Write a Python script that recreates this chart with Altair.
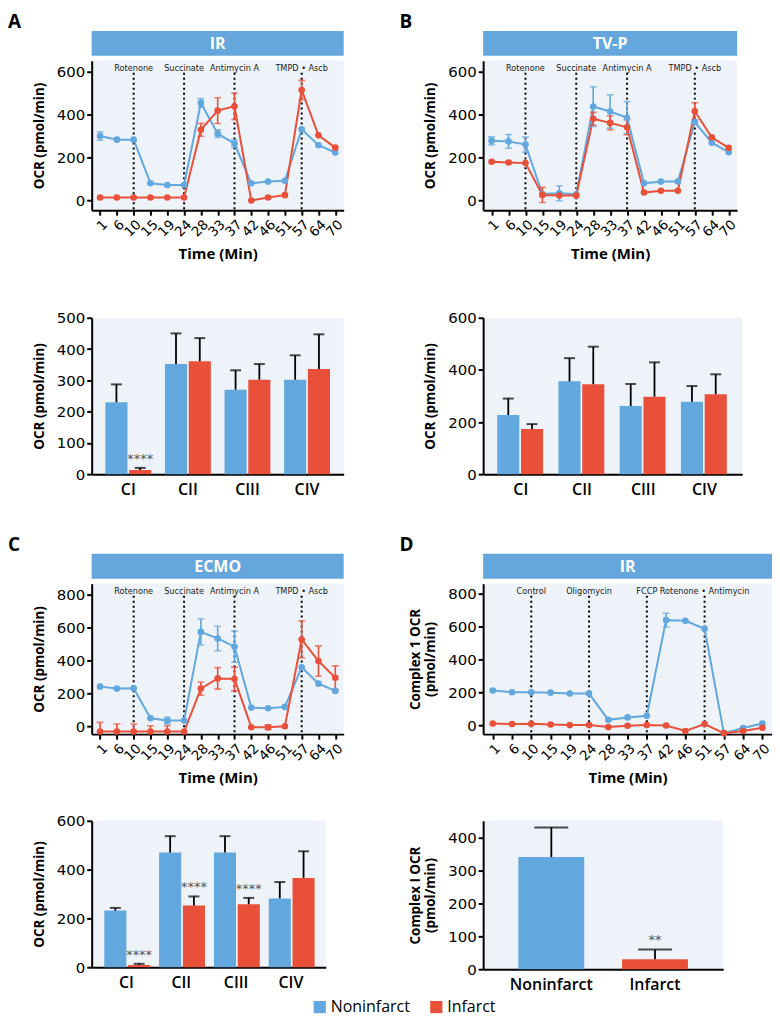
import altair as alt
import pandas as pd

BLUE = "#62a7de"
RED = "#e9503a"
HEADER = "#65a7dc"
BG = "#eef3fa"
GROUPS = ["Noninfarct", "Infarct"]
TIMES = ["1", "6", "10", "15", "19", "24", "28", "33", "37", "42", "46", "51", "57", "64", "70"]
CATS = ["CI", "CII", "CIII", "CIV"]

# ---------------- Panel A (IR) ----------------
A_EVENTS = ["10", "24", "37", "57"]
A_EVENT_LABELS = ["Rotenone", "Succinate", "Antimycin A", "TMPD \u2022 Ascb"]
A_NONINF = [300, 283, 283, 80, 72, 72, 454, 311, 265, 80, 88, 92, 331, 257, 223]
A_NONINF_ERR = [20, 0, 0, 0, 0, 0, 20, 18, 18, 0, 0, 0, 0, 0, 0]
A_INF = [14, 14, 14, 14, 14, 14, 329, 418, 438, 0, 14, 25, 514, 303, 246]
A_INF_ERR = [0, 0, 0, 0, 0, 0, 30, 60, 62, 0, 0, 0, 45, 0, 0]
A_BAR_NONINF = [230, 352, 270, 302]
A_BAR_NONINF_HI = [287, 450, 332, 380]
A_BAR_INF = [13, 361, 302, 336]
A_BAR_INF_HI = [20, 435, 352, 447]
A_BAR_STARS = ["****", "", "", ""]

# ---------------- Panel B (TV-P) ----------------
B_NONINF = [278, 275, 260, 30, 34, 29, 437, 414, 385, 80, 88, 88, 365, 269, 225]
B_NONINF_ERR = [18, 32, 35, 0, 35, 0, 92, 78, 75, 0, 0, 0, 0, 0, 0]
B_INF = [180, 177, 174, 26, 23, 23, 380, 361, 341, 37, 45, 45, 415, 294, 245]
B_INF_ERR = [0, 0, 0, 35, 0, 0, 30, 33, 35, 0, 0, 0, 40, 0, 0]
B_BAR_NONINF = [227, 356, 261, 278]
B_BAR_NONINF_HI = [290, 445, 346, 338]
B_BAR_INF = [173, 345, 297, 307]
B_BAR_INF_HI = [192, 489, 429, 383]
B_BAR_STARS = ["", "", "", ""]

# ---------------- Panel C (ECMO) ----------------
C_NONINF = [242, 230, 232, 50, 36, 36, 574, 534, 484, 115, 111, 119, 359, 260, 216]
C_NONINF_ERR = [0, 0, 0, 0, 20, 0, 80, 74, 94, 0, 0, 0, 0, 0, 0]
C_INF = [-30, -30, -30, -30, -30, -30, 230, 292, 288, -4, -4, 2, 528, 397, 296]
C_INF_ERR = [55, 45, 45, 35, 35, 0, 40, 65, 72, 0, 15, 0, 112, 92, 72]
C_BAR_NONINF = [232, 470, 470, 282]
C_BAR_NONINF_HI = [243, 537, 537, 349]
C_BAR_INF = [9, 253, 258, 366]
C_BAR_INF_HI = [14, 290, 284, 475]
C_BAR_STARS = ["****", "****", "****", ""]

# ---------------- Panel D (IR, complex I) ----------------
D_EVENTS = ["10", "24", "37", "51"]
D_EVENT_LABELS = ["Control", "Oligomycin", "FCCP", "Rotenone \u2022 Antimycin"]
D_NONINF = [211, 200, 200, 198, 192, 192, 32, 47, 57, 640, 636, 587, -49, -18, 10]
D_NONINF_ERR = [0, 0, 0, 0, 0, 0, 0, 0, 0, 42, 0, 0, 0, 0, 0]
D_INF = [10, 6, 8, 4, 0, 0, -12, -4, 0, -2, -36, 6, -49, -36, -16]
D_INF_ERR = [0] * 15
D_BAR_VALUES = [340, 30]
D_BAR_HI = [430, 60]
D_BAR_STARS = ["", "**"]

TICK_FONT = "DejaVu Sans"
TITLE_FONT = "Open Sans"
SMALL_FONT = "DejaVu Sans Condensed"

color_scale = alt.Scale(domain=GROUPS, range=[BLUE, RED])
color = alt.Color("group:N", scale=color_scale, legend=None)
stroke = alt.Stroke("group:N", scale=color_scale, legend=None)
fill = alt.Fill("group:N", scale=color_scale, legend=None)

SPACER = pd.DataFrame({"s": [0]})


def spacer(y):
    return alt.Chart(SPACER).mark_rule(opacity=0).encode(
        x=alt.value(0), y=alt.value(y), y2=alt.value(y + 1))


def line_panel(letter, title, noninf, noninf_err, inf, inf_err, events, event_labels,
               ydomain, yticks, ytitle, width, height, extra_top=0):
    rows = []
    for g, vals, errs in ((GROUPS[0], noninf, noninf_err), (GROUPS[1], inf, inf_err)):
        for i, (t, v, e) in enumerate(zip(TIMES, vals, errs)):
            rows.append(dict(time=t, idx=i, group=g, value=v, lo=v - e, hi=v + e, err=e))
    df = pd.DataFrame(rows)
    xax = alt.Axis(title="Time (Min)", labelAngle=-45, labelFontSize=13.5, labelFont=TICK_FONT,
                   titleFontSize=15, titlePadding=8, labelPadding=2)
    x = alt.X("time:O", sort=TIMES, scale=alt.Scale(type="point", padding=0.5), axis=xax)
    yax = alt.Axis(values=yticks, title=ytitle, labelFontSize=15, labelFont=TICK_FONT,
                   titleFontSize=13.5, titlePadding=10)
    ysc = alt.Scale(domain=ydomain, nice=False, zero=False)
    base = alt.Chart(df)
    line = base.mark_line(strokeWidth=2).encode(
        x=x, y=alt.Y("value:Q", scale=ysc, axis=yax), stroke=stroke, order=alt.Order("idx:Q"))
    pts = base.mark_circle(size=44, opacity=1).encode(
        x=x, y=alt.Y("value:Q", scale=ysc, axis=yax), fill=fill)
    edf = alt.Chart(df[df.err > 0])
    eb = edf.mark_rule(strokeWidth=1.6, clip=True).encode(
        x=x, y=alt.Y("lo:Q", scale=ysc, axis=yax), y2="hi:Q", stroke=stroke)
    cap_hi = edf.mark_tick(size=7, thickness=1.6, clip=True).encode(
        x=x, y=alt.Y("hi:Q", scale=ysc, axis=yax), fill=fill)
    cap_lo = edf.mark_tick(size=7, thickness=1.6, clip=True).encode(
        x=x, y=alt.Y("lo:Q", scale=ysc, axis=yax), fill=fill)
    ev = alt.Chart(pd.DataFrame({"time": events, "label": event_labels}))
    ev_rule = ev.mark_rule(color="black", strokeWidth=2, strokeDash=[2, 3]).encode(
        x=x, y=alt.value(12), y2=alt.value(height))
    ev_text = ev.mark_text(fontSize=9.1, font=SMALL_FONT, color="#222", baseline="middle").encode(
        x=x, y=alt.value(7), text="label:N")
    hd = alt.Chart(pd.DataFrame({"title": [title], "letter": [letter]}))
    hd_rect = hd.mark_rect(color=HEADER).encode(
        x=alt.value(0), x2=alt.value(width), y=alt.value(-30), y2=alt.value(-5))
    hd_text = hd.mark_text(color="white", fontSize=16, fontWeight="bold", font=TITLE_FONT,
                           baseline="middle").encode(
        x=alt.value(width / 2), y=alt.value(-17), text="title:N")
    lt = hd.mark_text(fontSize=19, fontWeight="bold", font=TITLE_FONT, align="left",
                      baseline="alphabetic", color="black").encode(
        x=alt.value(-84), y=alt.value(-33), text="letter:N")
    layers = [ev_rule, ev_text, line, eb, cap_hi, cap_lo, pts, hd_rect, hd_text, lt,
              spacer(-51 - extra_top)]
    return alt.layer(*layers).properties(
        width=width, height=height, view=alt.ViewBackground(fill=BG, strokeWidth=0))


def bar_panel(noninf, noninf_hi, inf, inf_hi, stars, ydomain, yticks, ytitle, width, height,
              pin=0.23, pout=0.23, extra_top=0):
    rows = []
    for g, vals, his in ((GROUPS[0], noninf, noninf_hi), (GROUPS[1], inf, inf_hi)):
        for i, (c, v, h) in enumerate(zip(CATS, vals, his)):
            rows.append(dict(cat=c, group=g, value=v, hi=h,
                             star=stars[i] if g == GROUPS[1] else ""))
    df = pd.DataFrame(rows)
    x = alt.X("cat:N", sort=CATS, scale=alt.Scale(paddingInner=pin, paddingOuter=pout),
              axis=alt.Axis(title=None, labelAngle=0, ticks=False, labelFontSize=16,
                            labelFont=TITLE_FONT, labelFontWeight=600, labelPadding=7))
    xo = alt.XOffset("group:N", sort=GROUPS, scale=alt.Scale(domain=GROUPS, paddingInner=0.07))
    yax = alt.Axis(values=yticks, title=ytitle, labelFontSize=15, labelFont=TICK_FONT,
                   titleFontSize=13.5, titlePadding=10)
    ysc = alt.Scale(domain=ydomain, nice=False, zero=True)
    base = alt.Chart(df)
    bars = base.mark_bar().encode(x=x, xOffset=xo, y=alt.Y("value:Q", scale=ysc, axis=yax),
                                  color=color)
    rule = base.mark_rule(color="black", strokeWidth=1.8).encode(
        x=x, xOffset=xo, y=alt.Y("value:Q", scale=ysc, axis=yax), y2="hi:Q")
    cap = base.mark_tick(color="black", thickness=2, size=11).encode(
        x=x, xOffset=xo, y=alt.Y("hi:Q", scale=ysc, axis=yax))
    st = alt.Chart(df[df.star != ""]).mark_text(dy=-9, color="#555", fontSize=13, font=TICK_FONT,
                                               baseline="middle").encode(
        x=x, xOffset=xo, y=alt.Y("hi:Q", scale=ysc, axis=yax), text="star:N")
    layers = [bars, rule, cap, st]
    if extra_top:
        layers.append(spacer(-9 - extra_top))
    return alt.layer(*layers).properties(
        width=width, height=height, view=alt.ViewBackground(fill=BG, strokeWidth=0))


def bar_panel_d(values, his, stars, ydomain, yticks, ytitle, width, height):
    df = pd.DataFrame({"group": GROUPS, "value": values, "hi": his, "star": stars})
    x = alt.X("group:N", sort=GROUPS, scale=alt.Scale(paddingInner=0.365, paddingOuter=0.34),
              axis=alt.Axis(title=None, labelAngle=0, ticks=False, labelFontSize=16,
                            labelFont=TITLE_FONT, labelFontWeight=600, labelPadding=7))
    yax = alt.Axis(values=yticks, title=ytitle, labelFontSize=15, labelFont=TICK_FONT,
                   titleFontSize=13.5, titlePadding=10)
    ysc = alt.Scale(domain=ydomain, nice=False, zero=True)
    base = alt.Chart(df)
    bars = base.mark_bar().encode(x=x, y=alt.Y("value:Q", scale=ysc, axis=yax), color=color)
    rule = base.mark_rule(color="black", strokeWidth=1.8).encode(
        x=x, y=alt.Y("value:Q", scale=ysc, axis=yax), y2="hi:Q")
    cap = base.mark_tick(color="black", thickness=2, size=34).encode(
        x=x, y=alt.Y("hi:Q", scale=ysc, axis=yax))
    st = alt.Chart(df[df.star != ""]).mark_text(dy=-9, color="#555", fontSize=13, font=TICK_FONT,
                                               baseline="middle").encode(
        x=x, y=alt.Y("hi:Q", scale=ysc, axis=yax), text="star:N")
    panel = alt.layer(bars, rule, cap, st)
    # figure legend (Noninfarct / Infarct), drawn below the panels
    leg_df = pd.DataFrame({"group": GROUPS})
    lx = alt.X("group:N", sort=GROUPS,
               scale=alt.Scale(type="point", domain=GROUPS, range=[-164, -47], padding=0),
               axis=None)
    leg_y = alt.value(height + 38)
    leg_sq = alt.Chart(leg_df).mark_square(size=150, opacity=1).encode(x=lx, y=leg_y, color=color)
    leg_tx = alt.Chart(leg_df).mark_text(align="left", dx=11, fontSize=16, font=TITLE_FONT,
                                         baseline="middle", color="black").encode(
        x=lx, y=leg_y, text="group:N")
    legend = alt.layer(leg_sq, leg_tx)
    return alt.layer(panel, legend).resolve_scale(x="independent").properties(
        width=width, height=height, view=alt.ViewBackground(fill=BG, strokeWidth=0))


a_line = line_panel("A", "IR", A_NONINF, A_NONINF_ERR, A_INF, A_INF_ERR, A_EVENTS, A_EVENT_LABELS,
                    [-45, 650], [0, 200, 400, 600], "OCR (pmol/min)", 253, 150)
b_line = line_panel("B", "TV-P", B_NONINF, B_NONINF_ERR, B_INF, B_INF_ERR, A_EVENTS, A_EVENT_LABELS,
                    [-45, 650], [0, 200, 400, 600], "OCR (pmol/min)", 255, 150)
c_line = line_panel("C", "ECMO", C_NONINF, C_NONINF_ERR, C_INF, C_INF_ERR, A_EVENTS, A_EVENT_LABELS,
                    [-46, 866], [0, 200, 400, 600, 800], "OCR (pmol/min)", 253, 151, extra_top=12)
d_line = line_panel("D", "IR", D_NONINF, D_NONINF_ERR, D_INF, D_INF_ERR, D_EVENTS, D_EVENT_LABELS,
                    [-55, 862], [0, 200, 400, 600, 800], ["Complex 1 OCR", "(pmol/min)"], 290, 151,
                    extra_top=12)

a_bar = bar_panel(A_BAR_NONINF, A_BAR_NONINF_HI, A_BAR_INF, A_BAR_INF_HI, A_BAR_STARS,
                  [0, 500], [0, 100, 200, 300, 400, 500], "OCR (pmol/min)", 253, 157, extra_top=23)
b_bar = bar_panel(B_BAR_NONINF, B_BAR_NONINF_HI, B_BAR_INF, B_BAR_INF_HI, B_BAR_STARS,
                  [0, 600], [0, 200, 400, 600], "OCR (pmol/min)", 260, 157, extra_top=23)
c_bar = bar_panel(C_BAR_NONINF, C_BAR_NONINF_HI, C_BAR_INF, C_BAR_INF_HI, C_BAR_STARS,
                  [0, 600], [0, 200, 400, 600], "OCR (pmol/min)", 235, 147, pin=0.19, pout=0.23,
                  extra_top=2)
d_bar = bar_panel_d(D_BAR_VALUES, D_BAR_HI, D_BAR_STARS, [0, 450], [0, 100, 200, 300, 400],
                    ["Complex I OCR", "(pmol/min)"], 241, 149)

chart = alt.concat(
    a_line, b_line, a_bar, b_bar, c_line, d_line, c_bar, d_bar,
    columns=2, spacing=alt.RowColnumber(row=24, column=-33), align="each"
).properties(padding=0).configure_view(
    strokeWidth=0
).configure_axis(
    domainColor="black", domainWidth=2, tickColor="black", tickWidth=2, tickSize=5,
    labelColor="black", titleColor="black", grid=False, titleFont=TITLE_FONT,
    titleFontWeight="bold"
)

chart.save("out.html", embed_options={"renderer": "svg", "actions": False})
